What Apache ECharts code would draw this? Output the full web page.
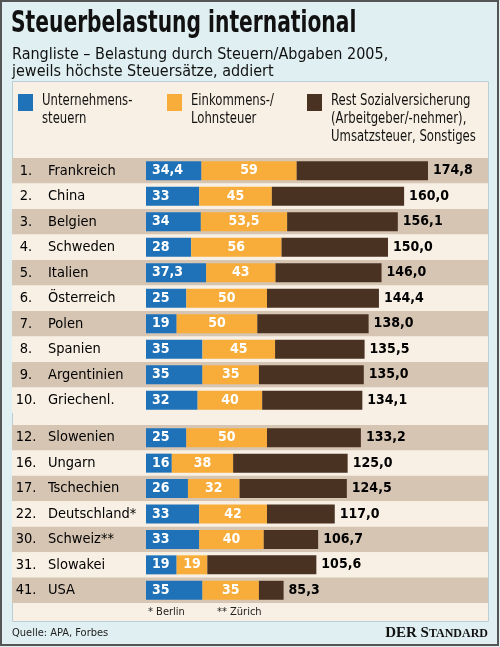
<!DOCTYPE html>
<html><head><meta charset="utf-8">
<script src="https://cdn.jsdelivr.net/npm/echarts@6/dist/echarts.min.js"></script>
<style>html,body{margin:0;padding:0;background:#e0eff1}#c{width:500px;height:647px}</style>
</head><body><div id="c"></div>
<script>
const ranksTop = ['1.','2.','3.','4.','5.','6.','7.','8.','9.','10.'];
const countriesTop = ['Frankreich','China','Belgien','Schweden','Italien','Österreich','Polen','Spanien','Argentinien','Griechenl.'];
const blueTop = [34.4,33,34,28,37.3,25,19,35,35,32];
const orangeTop = [59,45,53.5,56,43,50,50,45,35,40];
const totalTop = [174.8,160.0,156.1,150.0,146.0,144.4,138.0,135.5,135.0,134.1];

const ranksBot = ['12.','16.','17.','22.','30.','31.','41.'];
const countriesBot = ['Slowenien','Ungarn','Tschechien','Deutschland*','Schweiz**','Slowakei','USA'];
const blueBot = [25,16,26,33,33,19,35];
const orangeBot = [50,38,32,42,40,19,35];
const totalBot = [133.2,125.0,124.5,117.0,106.7,105.6,85.3];

const seriesNames = ['Unternehmens-\nsteuern','Einkommens-/\nLohnsteuer','Rest Sozialversicherung\n(Arbeitgeber/-nehmer),\nUmsatzsteuer, Sonstiges'];
const colors = ['#1f72b8','#f8ad3a','#4a3223'];
const TAN = '#d6c5b3', CREAM = '#f8f0e4';
const FONT = '"DejaVu Sans Condensed","Liberation Sans Narrow",sans-serif';

function fmt(v){ return Number.isInteger(v) ? String(v) : v.toFixed(1).replace('.',','); }
function fmt1(v){ return v.toFixed(1).replace('.',','); }

const chart = echarts.init(document.getElementById('c'), null, {renderer:'canvas'});

function makeCats(ranks, countries){ return ranks.map((r,i)=> r + '|' + countries[i]); }

function yAx(gi, ranks, countries){
  return {
    type:'category', gridIndex:gi, inverse:true, data: makeCats(ranks, countries),
    axisLine:{show:false}, axisTick:{show:false},
    splitArea:{show:true, areaStyle:{color:[TAN, CREAM]}},
    axisLabel:{inside:true, margin:4, align:'left',
      formatter: v => { const p=v.split('|'); return '{r|'+p[0]+'}{c|'+p[1]+'}'; },
      rich:{ r:{width:20, align:'right', fontSize:14.5, fontFamily:FONT, color:'#000'},
             c:{padding:[0,0,0,12], fontSize:14.5, fontFamily:FONT, color:'#000'} }
    },
    z:1
  };
}
function xAx(gi){
  return {type:'value', gridIndex:gi, min:-83.07, max:212.0, show:false, splitLine:{show:false}};
}
function seriesFor(gi, blue, orange, total){
  const stack = 's'+gi;
  const rest = total.map((t,i)=> +(t - blue[i] - orange[i]).toFixed(2));
  const lblBase = {color:'#fff', fontWeight:'bold', fontSize:14, fontFamily:FONT};
  return [
    {name:seriesNames[0], type:'bar', stack, xAxisIndex:gi, yAxisIndex:gi, barWidth:19, itemStyle:{color:colors[0]},
     data: blue, label:{show:true, position:'insideLeft', distance:6, ...lblBase, formatter: p=>fmt(p.value)}},
    {name:seriesNames[1], type:'bar', stack, xAxisIndex:gi, yAxisIndex:gi, barWidth:19, itemStyle:{color:colors[1]},
     data: orange, label:{show:true, position:'inside', ...lblBase, formatter: p=>fmt(p.value)}},
    {name:seriesNames[2], type:'bar', stack, xAxisIndex:gi, yAxisIndex:gi, barWidth:19,
     itemStyle:{color:colors[2]},
     data: rest, label:{show:true, position:'right', distance:5, color:'#000', fontWeight:'bold', fontSize:14, fontFamily:FONT,
       formatter: p=>fmt1(total[p.dataIndex])}}
  ];
}

const legendEls = [];
const legX = [18,167,307];
seriesNames.forEach((n,i)=>{
  legendEls.push({type:'rect', x:legX[i], y:94, shape:{width:15,height:17}, style:{fill:colors[i]}});
  legendEls.push({type:'text', x:legX[i]+24, y:92, scaleX:0.81, style:{text:n, fontSize:16, lineHeight:18, fontFamily:FONT, fill:'#111', verticalAlign:'top'}});
});

const option = {
  backgroundColor:'#e0eff1',
  animation:false,
  grid:[
    {left:12, right:12, top:158, height:255},
    {left:12, right:12, top:425, height:178}
  ],
  xAxis:[xAx(0), xAx(1)],
  yAxis:[yAx(0, ranksTop, countriesTop), yAx(1, ranksBot, countriesBot)],
  series:[...seriesFor(0, blueTop, orangeTop, totalTop), ...seriesFor(1, blueBot, orangeBot, totalBot)],
  graphic:[
    {type:'rect', z:-100, x:1, y:1, shape:{width:497, height:644}, style:{fill:'#e0eff1', stroke:'#555', lineWidth:2}},
    {type:'rect', z:-90, x:12.5, y:81.5, shape:{width:476, height:540}, style:{fill:CREAM, stroke:'#b9cfd5', lineWidth:1}},
    {type:'text', x:11, y:9, scaleX:0.75, style:{text:'Steuerbelastung international', fontSize:30, fontWeight:'bold', fontFamily:FONT, fill:'#111', verticalAlign:'top'}},
    {type:'text', x:12, y:46, style:{text:'Rangliste – Belastung durch Steuern/Abgaben 2005,\njeweils höchste Steuersätze, addiert', fontSize:16, lineHeight:17, fontFamily:FONT, fill:'#111', verticalAlign:'top'}},
    ...legendEls,
    {type:'text', x:148, y:607, style:{text:'* Berlin', fontSize:11, fontFamily:FONT, fill:'#222', verticalAlign:'top'}},
    {type:'text', x:217, y:607, style:{text:'** Zürich', fontSize:11, fontFamily:FONT, fill:'#222', verticalAlign:'top'}},
    {type:'text', x:12, y:628, style:{text:'Quelle: APA, Forbes', fontSize:11, fontFamily:FONT, fill:'#222', verticalAlign:'top'}},
    {type:'text', right:12, top:626, style:{text:'{a|DER S}{b|TANDARD}', rich:{a:{fontSize:15, fontWeight:'bold', fontFamily:'"Liberation Serif","DejaVu Serif",serif', fill:'#111'}, b:{fontSize:12, fontWeight:'bold', fontFamily:'"Liberation Serif","DejaVu Serif",serif', fill:'#111'}}}}
  ]
};
chart.setOption(option);
</script></body></html>
